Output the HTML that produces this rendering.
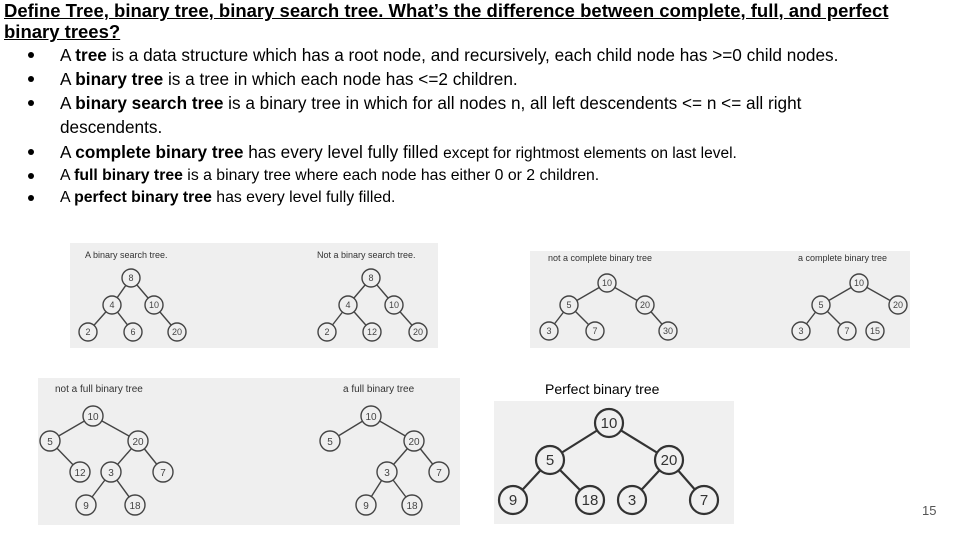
<!DOCTYPE html>
<html><head><meta charset="utf-8"><style>
body{margin:0;width:960px;height:540px;background:#fff;position:relative;overflow:hidden;font-family:"Liberation Sans",Arial,sans-serif;color:#000}
.t{position:absolute;white-space:nowrap}
.h{left:4px;top:0px;font-size:18.5px;font-weight:bold;text-decoration:underline;line-height:21px}
.b{left:60px;font-size:17.2px}
.d{position:absolute;left:28px;width:6px;height:6px;border-radius:50%;background:#000}
svg{position:absolute;left:0;top:0}
</style></head><body>
<div class="t h">Define Tree, binary tree, binary search tree. What’s the difference between complete, full, and perfect<br>binary trees?</div>
<div class="d" style="top:52px"></div><div class="t b" style="top:45px">A <b>tree</b> is a data structure which has a root node, and recursively, each child node has &gt;=0 child nodes.</div>
<div class="d" style="top:76px"></div><div class="t b" style="top:69px">A <b>binary tree</b> is a tree in which each node has &lt;=2 children.</div>
<div class="d" style="top:100px"></div><div class="t b" style="top:93px">A <b>binary search tree</b> is a binary tree in which for all nodes n, all left descendents &lt;= n &lt;= all right</div>
<div class="t b" style="top:117px">descendents.</div>
<div class="d" style="top:149px"></div><div class="t b" style="top:142px">A <b>complete binary tree</b> has every level fully filled <span style="font-size:15.5px">except for rightmost elements on last level.</span></div>
<div class="d" style="top:173px"></div><div class="t b" style="top:167px;font-size:15.8px">A <b>full binary tree</b> is a binary tree where each node has either 0 or 2 children.</div>
<div class="d" style="top:195px"></div><div class="t b" style="top:189px;font-size:15.8px">A <b>perfect binary tree</b> has every level fully filled.</div>
<div class="t" style="left:545px;top:381px;font-size:14px">Perfect binary tree</div>
<div class="t" style="left:922px;top:503px;font-size:13px;color:#555">15</div>
<svg width="960" height="540" font-family="Liberation Sans, sans-serif" font-size="9" fill="#444">
<rect x="70" y="243" width="368" height="105" fill="#efefef"/>
<rect x="530" y="251" width="380" height="97" fill="#efefef"/>
<rect x="38" y="378" width="422" height="147" fill="#efefef"/>
<rect x="494" y="401" width="240" height="123" fill="#f0f0f0"/>
<g font-size="9" fill="#333">
<text x="85" y="258">A binary search tree.</text><text x="317" y="258">Not a binary search tree.</text>
<text x="548" y="261">not a complete binary tree</text><text x="798" y="261">a complete binary tree</text>
<text x="55" y="392" font-size="10">not a full binary tree</text><text x="343" y="392" font-size="10">a full binary tree</text>
</g>
<g stroke="#444" stroke-width="1.4">
<line x1="131" y1="278" x2="112" y2="305"/><line x1="131" y1="278" x2="154" y2="305"/><line x1="112" y1="305" x2="88" y2="332"/><line x1="112" y1="305" x2="133" y2="332"/><line x1="154" y1="305" x2="177" y2="332"/>
<line x1="371" y1="278" x2="348" y2="305"/><line x1="371" y1="278" x2="394" y2="305"/><line x1="348" y1="305" x2="327" y2="332"/><line x1="348" y1="305" x2="372" y2="332"/><line x1="394" y1="305" x2="418" y2="332"/>
<line x1="607" y1="283" x2="569" y2="305"/><line x1="607" y1="283" x2="645" y2="305"/><line x1="569" y1="305" x2="549" y2="331"/><line x1="569" y1="305" x2="595" y2="331"/><line x1="645" y1="305" x2="668" y2="331"/>
<line x1="859" y1="283" x2="821" y2="305"/><line x1="859" y1="283" x2="898" y2="305"/><line x1="821" y1="305" x2="801" y2="331"/><line x1="821" y1="305" x2="847" y2="331"/>
<line x1="93" y1="416" x2="50" y2="441"/><line x1="93" y1="416" x2="138" y2="441"/><line x1="50" y1="441" x2="80" y2="472"/><line x1="138" y1="441" x2="111" y2="472"/><line x1="138" y1="441" x2="163" y2="472"/><line x1="111" y1="472" x2="86" y2="505"/><line x1="111" y1="472" x2="135" y2="505"/>
<line x1="371" y1="416" x2="330" y2="441"/><line x1="371" y1="416" x2="414" y2="441"/><line x1="414" y1="441" x2="387" y2="472"/><line x1="414" y1="441" x2="439" y2="472"/><line x1="387" y1="472" x2="366" y2="505"/><line x1="387" y1="472" x2="412" y2="505"/>
<g stroke-width="2.2" stroke="#333"><line x1="609" y1="423" x2="550" y2="460"/><line x1="609" y1="423" x2="669" y2="460"/><line x1="550" y1="460" x2="513" y2="500"/><line x1="550" y1="460" x2="590" y2="500"/><line x1="669" y1="460" x2="632" y2="500"/><line x1="669" y1="460" x2="704" y2="500"/></g>
</g>
<g stroke="#444" stroke-width="1.4" fill="#efefef">
<circle cx="131" cy="278" r="9"/><circle cx="112" cy="305" r="9"/><circle cx="154" cy="305" r="9"/><circle cx="88" cy="332" r="9"/><circle cx="133" cy="332" r="9"/><circle cx="177" cy="332" r="9"/>
<circle cx="371" cy="278" r="9"/><circle cx="348" cy="305" r="9"/><circle cx="394" cy="305" r="9"/><circle cx="327" cy="332" r="9"/><circle cx="372" cy="332" r="9"/><circle cx="418" cy="332" r="9"/>
<circle cx="607" cy="283" r="9"/><circle cx="569" cy="305" r="9"/><circle cx="645" cy="305" r="9"/><circle cx="549" cy="331" r="9"/><circle cx="595" cy="331" r="9"/><circle cx="668" cy="331" r="9"/>
<circle cx="859" cy="283" r="9"/><circle cx="821" cy="305" r="9"/><circle cx="898" cy="305" r="9"/><circle cx="801" cy="331" r="9"/><circle cx="847" cy="331" r="9"/><circle cx="875" cy="331" r="9"/>
<circle cx="93" cy="416" r="10"/><circle cx="50" cy="441" r="10"/><circle cx="138" cy="441" r="10"/><circle cx="80" cy="472" r="10"/><circle cx="111" cy="472" r="10"/><circle cx="163" cy="472" r="10"/><circle cx="86" cy="505" r="10"/><circle cx="135" cy="505" r="10"/>
<circle cx="371" cy="416" r="10"/><circle cx="330" cy="441" r="10"/><circle cx="414" cy="441" r="10"/><circle cx="387" cy="472" r="10"/><circle cx="439" cy="472" r="10"/><circle cx="366" cy="505" r="10"/><circle cx="412" cy="505" r="10"/>
<g stroke-width="2.2" stroke="#333" fill="#f0f0f0"><circle cx="609" cy="423" r="14"/><circle cx="550" cy="460" r="14"/><circle cx="669" cy="460" r="14"/><circle cx="513" cy="500" r="14"/><circle cx="590" cy="500" r="14"/><circle cx="632" cy="500" r="14"/><circle cx="704" cy="500" r="14"/></g>
</g>
<g text-anchor="middle" fill="#444" font-size="9">
<text x="131" y="281">8</text><text x="112" y="308">4</text><text x="154" y="308">10</text><text x="88" y="335">2</text><text x="133" y="335">6</text><text x="177" y="335">20</text>
<text x="371" y="281">8</text><text x="348" y="308">4</text><text x="394" y="308">10</text><text x="327" y="335">2</text><text x="372" y="335">12</text><text x="418" y="335">20</text>
<text x="607" y="286">10</text><text x="569" y="308">5</text><text x="645" y="308">20</text><text x="549" y="334">3</text><text x="595" y="334">7</text><text x="668" y="334">30</text>
<text x="859" y="286">10</text><text x="821" y="308">5</text><text x="898" y="308">20</text><text x="801" y="334">3</text><text x="847" y="334">7</text><text x="875" y="334">15</text>
<g font-size="10"><text x="93" y="420">10</text><text x="50" y="445">5</text><text x="138" y="445">20</text><text x="80" y="476">12</text><text x="111" y="476">3</text><text x="163" y="476">7</text><text x="86" y="509">9</text><text x="135" y="509">18</text>
<text x="371" y="420">10</text><text x="330" y="445">5</text><text x="414" y="445">20</text><text x="387" y="476">3</text><text x="439" y="476">7</text><text x="366" y="509">9</text><text x="412" y="509">18</text></g>
<g font-size="15" fill="#333"><text x="609" y="428">10</text><text x="550" y="465">5</text><text x="669" y="465">20</text><text x="513" y="505">9</text><text x="590" y="505">18</text><text x="632" y="505">3</text><text x="704" y="505">7</text></g>
</g>
</svg>
</body></html>
